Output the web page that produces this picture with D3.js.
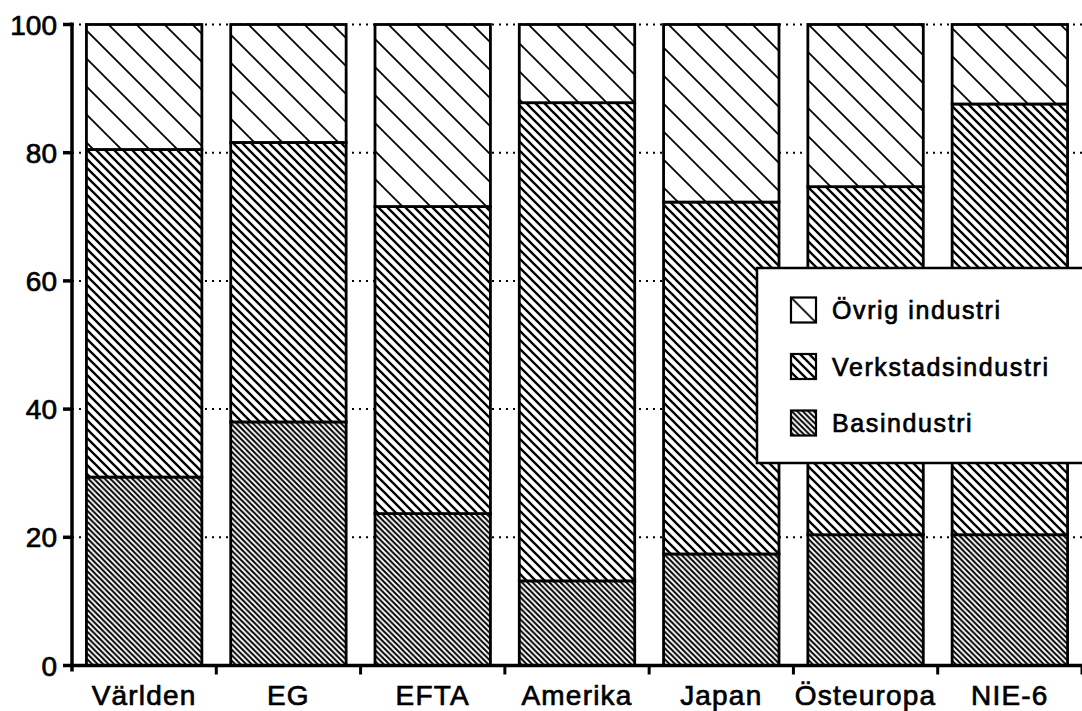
<!DOCTYPE html>
<html>
<head>
<meta charset="utf-8">
<script src="https://cdn.jsdelivr.net/npm/d3@7"></script>
<style>
  body { margin: 0; background: #fff; }
  svg { display: block; }
  text { font-family: "Liberation Sans", Arial, sans-serif; fill: #000; stroke: #000; stroke-width: 0.7px; }
</style>
</head>
<body>
<svg id="chart"></svg>
<script>
const categories = ["Världen", "EG", "EFTA", "Amerika", "Japan", "Östeuropa", "NIE-6"];
const basindustri = [29.4, 38.0, 23.7, 13.2, 17.4, 20.4, 20.4];
const verkstadsindustri = [51.1, 43.6, 47.9, 74.6, 54.9, 54.3, 67.2];
const ovrigIndustri = [19.5, 18.4, 28.4, 12.2, 27.7, 25.3, 12.4];
const seriesNames = ["Basindustri", "Verkstadsindustri", "Övrig industri"];
const yTicks = [0, 20, 40, 60, 80, 100];

const width = 1082;
const height = 711;

const svg = d3.select("#chart")
    .attr("width", width)
    .attr("height", height);

// hatch patterns, all "\" lines, getting denser
const defs = svg.append("defs");
const hatch = [
    { id: "h-bas", s: 5.5, w: 2.0 },
    { id: "h-verk", s: 9, w: 2.3 },
    { id: "h-ovrig", s: 28, w: 1.8 }
];
hatch.forEach(h => {
    const p = defs.append("pattern")
        .attr("id", h.id)
        .attr("patternUnits", "userSpaceOnUse")
        .attr("width", h.s)
        .attr("height", h.s);
    p.append("rect").attr("width", h.s).attr("height", h.s).attr("fill", "#fff");
    p.append("path")
        .attr("d", `M0,0L${h.s},${h.s}M${-h.s / 2},${h.s / 2}L${h.s / 2},${h.s * 1.5}M${h.s / 2},${-h.s / 2}L${h.s * 1.5},${h.s / 2}`)
        .attr("stroke", "#000")
        .attr("stroke-width", h.w);
});

const x = d3.scaleBand()
    .domain(categories)
    .range([72, 1082])
    .paddingInner(0.2)
    .paddingOuter(0.1);

const y = d3.scaleLinear()
    .domain([0, 100])
    .range([665.5, 24.5]);

// dotted grid
svg.append("g")
    .selectAll("line")
    .data(yTicks.filter(t => t > 0))
    .enter()
    .append("line")
    .attr("x1", 72)
    .attr("x2", width)
    .attr("y1", d => y(d))
    .attr("y2", d => y(d))
    .attr("stroke", "#000")
    .attr("stroke-width", 2)
    .attr("stroke-dasharray", "2,5");

// stacked bars
const rows = categories.map((c, i) => ({
    cat: c,
    Basindustri: basindustri[i],
    Verkstadsindustri: verkstadsindustri[i],
    "Övrig industri": ovrigIndustri[i]
}));
const stack = d3.stack().keys(seriesNames)(rows);
const fills = { "Basindustri": "url(#h-bas)", "Verkstadsindustri": "url(#h-verk)", "Övrig industri": "url(#h-ovrig)" };

svg.append("g")
    .selectAll("g")
    .data(stack)
    .enter()
    .append("g")
    .attr("fill", d => fills[d.key])
    .selectAll("rect")
    .data(d => d)
    .enter()
    .append("rect")
    .attr("x", d => x(d.data.cat))
    .attr("y", d => y(d[1]))
    .attr("width", x.bandwidth())
    .attr("height", d => y(d[0]) - y(d[1]))
    .attr("stroke", "#000")
    .attr("stroke-width", 2.8);

// axes
const axisG = svg.append("g");
axisG.append("line")
    .attr("x1", 72).attr("x2", 72)
    .attr("y1", y(100) - 2).attr("y2", y(0) + 6)
    .attr("stroke", "#000").attr("stroke-width", 3.5);
axisG.append("line")
    .attr("x1", 70).attr("x2", width)
    .attr("y1", y(0)).attr("y2", y(0))
    .attr("stroke", "#000").attr("stroke-width", 3.5);

axisG.selectAll(".ytick")
    .data(yTicks)
    .enter()
    .append("line")
    .attr("x1", 63).attr("x2", 72)
    .attr("y1", d => y(d)).attr("y2", d => y(d))
    .attr("stroke", "#000").attr("stroke-width", 3.5);

axisG.selectAll(".ylab")
    .data(yTicks)
    .enter()
    .append("text")
    .attr("x", 57)
    .attr("y", d => y(d) + 10)
    .attr("text-anchor", "end")
    .attr("font-size", 28)
    .text(d => d);

axisG.selectAll(".xtick")
    .data(categories)
    .enter()
    .append("line")
    .attr("x1", d => x(d) - x.step() * 0.1 + x.step())
    .attr("x2", d => x(d) - x.step() * 0.1 + x.step())
    .attr("y1", y(0)).attr("y2", y(0) + 9)
    .attr("stroke", "#000").attr("stroke-width", 3);

axisG.selectAll(".xlab")
    .data(categories)
    .enter()
    .append("text")
    .attr("x", d => x(d) + x.bandwidth() / 2)
    .attr("y", 705)
    .attr("text-anchor", "middle")
    .attr("font-size", 28)
    .attr("letter-spacing", 1.2)
    .text(d => d);

// legend
const legend = svg.append("g");
legend.append("rect")
    .attr("x", 757).attr("y", 268)
    .attr("width", 340).attr("height", 195)
    .attr("fill", "#fff")
    .attr("stroke", "#000").attr("stroke-width", 2.5);

const legendOrder = seriesNames.slice().reverse();
legendOrder.forEach((name, i) => {
    const cy = 310 + i * 56.5;
    const h = hatch[seriesNames.indexOf(name)];
    const s = name === "Övrig industri" ? 25 : h.s;
    // per-swatch pattern so the tile lines up with the box corner
    const p = defs.append("pattern")
        .attr("id", "lg" + i)
        .attr("patternUnits", "userSpaceOnUse")
        .attr("x", 791).attr("y", cy - 12.5)
        .attr("width", s)
        .attr("height", s);
    p.append("rect").attr("width", s).attr("height", s).attr("fill", "#fff");
    p.append("path")
        .attr("d", `M0,0L${s},${s}M${-s / 2},${s / 2}L${s / 2},${s * 1.5}M${s / 2},${-s / 2}L${s * 1.5},${s / 2}`)
        .attr("stroke", "#000")
        .attr("stroke-width", h.w);
    legend.append("rect")
        .attr("x", 791).attr("y", cy - 12.5)
        .attr("width", 25).attr("height", 25)
        .attr("fill", `url(#lg${i})`)
        .attr("stroke", "#000").attr("stroke-width", 2.2);
    legend.append("text")
        .attr("x", 832)
        .attr("y", cy + 9)
        .attr("font-size", 25)
        .attr("letter-spacing", 1.6)
        .text(name);
});
</script>
</body>
</html>
